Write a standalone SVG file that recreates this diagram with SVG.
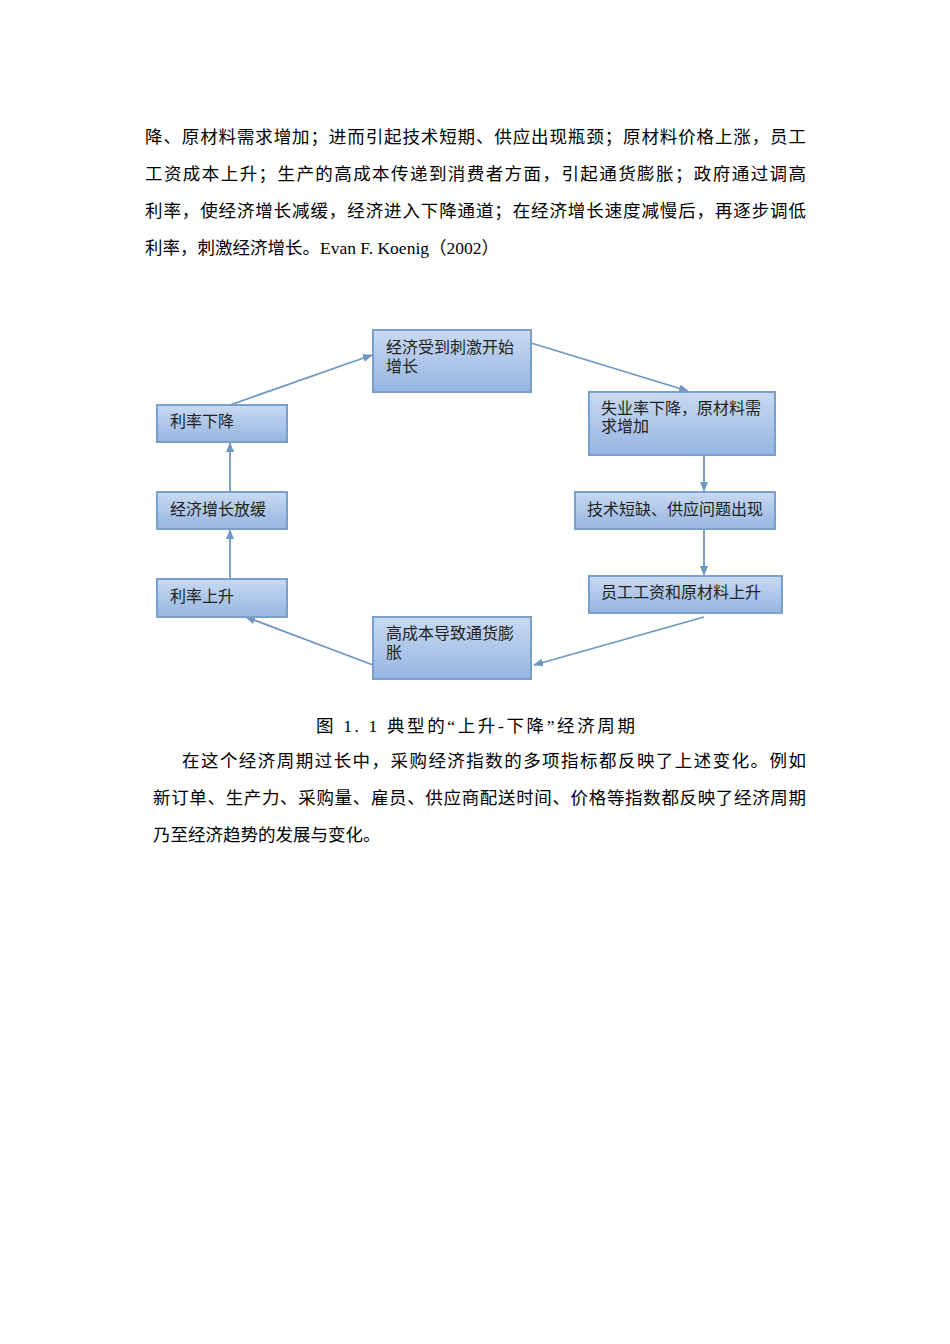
<svg xmlns="http://www.w3.org/2000/svg" width="950" height="1344" viewBox="0 0 950 1344">
<defs>
<linearGradient id="g" x1="0" y1="0" x2="0" y2="1"><stop offset="0" stop-color="#c9daf2"/><stop offset="1" stop-color="#95b5e0"/></linearGradient>
<marker id="a" markerWidth="10" markerHeight="8" refX="9" refY="4" orient="auto" markerUnits="userSpaceOnUse"><path d="M0,0 L10,4 L0,8 z" fill="#6e97c4"/></marker>
<style>
.b{fill:url(#g);stroke:#7b9fcb;stroke-width:2}
.t{font-family:"Liberation Serif","Noto Sans CJK SC",serif;font-size:16px;fill:#222}
.p{font-family:"Liberation Serif","Noto Sans CJK SC",serif;font-size:17.5px;fill:#000}
.c{stroke:#6e97c4;stroke-width:1.8;fill:none;marker-end:url(#a)}
</style>
</defs>
<rect width="950" height="1344" fill="#fff"/>
<text class="p" x="145" y="143" textLength="661" lengthAdjust="spacing">降、原材料需求增加；进而引起技术短期、供应出现瓶颈；原材料价格上涨，员工</text>
<text class="p" x="145" y="180" textLength="661" lengthAdjust="spacing">工资成本上升；生产的高成本传递到消费者方面，引起通货膨胀；政府通过调高</text>
<text class="p" x="145" y="217" textLength="661" lengthAdjust="spacing">利率，使经济增长减缓，经济进入下降通道；在经济增长速度减慢后，再逐步调低</text>
<text class="p" x="145" y="254" textLength="354" lengthAdjust="spacing">利率，刺激经济增长。Evan F. Koenig（2002）</text>
<g id="connectors">
<line class="c" x1="531" y1="343" x2="688" y2="391"/>
<line class="c" x1="704" y1="455" x2="704" y2="491"/>
<line class="c" x1="704" y1="529" x2="704" y2="575"/>
<line class="c" x1="704" y1="617" x2="534" y2="665"/>
<line class="c" x1="373" y1="665" x2="246" y2="617"/>
<line class="c" x1="230" y1="579" x2="230" y2="530"/>
<line class="c" x1="230" y1="492" x2="230" y2="443"/>
<line class="c" x1="230" y1="405" x2="372" y2="355"/>
</g>
<g id="n1"><rect class="b" x="373" y="330" width="158" height="62"/><text class="t" x="386" y="353">经济受到刺激开始</text><text class="t" x="386" y="372">增长</text></g>
<g id="n2"><rect class="b" x="589" y="392" width="186" height="63"/><text class="t" x="601" y="414">失业率下降，原材料需</text><text class="t" x="601" y="432">求增加</text></g>
<g id="n3"><rect class="b" x="575" y="492" width="200" height="37"/><text class="t" x="587" y="515">技术短缺、供应问题出现</text></g>
<g id="n4"><rect class="b" x="589" y="576" width="193" height="37"/><text class="t" x="601" y="598">员工工资和原材料上升</text></g>
<g id="n5"><rect class="b" x="373" y="617" width="158" height="62"/><text class="t" x="386" y="639">高成本导致通货膨</text><text class="t" x="386" y="658">胀</text></g>
<g id="n6"><rect class="b" x="157" y="579" width="130" height="38"/><text class="t" x="170" y="602">利率上升</text></g>
<g id="n7"><rect class="b" x="157" y="492" width="130" height="37"/><text class="t" x="170" y="515">经济增长放缓</text></g>
<g id="n8"><rect class="b" x="157" y="405" width="130" height="37"/><text class="t" x="170" y="427">利率下降</text></g>
<text class="p" x="316" y="732" textLength="319" lengthAdjust="spacing">图 1. 1  典型的“上升-下降”经济周期</text>
<text class="p" x="182" y="767" textLength="624" lengthAdjust="spacing">在这个经济周期过长中，采购经济指数的多项指标都反映了上述变化。例如</text>
<text class="p" x="153" y="804" textLength="653" lengthAdjust="spacing">新订单、生产力、采购量、雇员、供应商配送时间、价格等指数都反映了经济周期</text>
<text class="p" x="153" y="841">乃至经济趋势的发展与变化。</text>
</svg>
